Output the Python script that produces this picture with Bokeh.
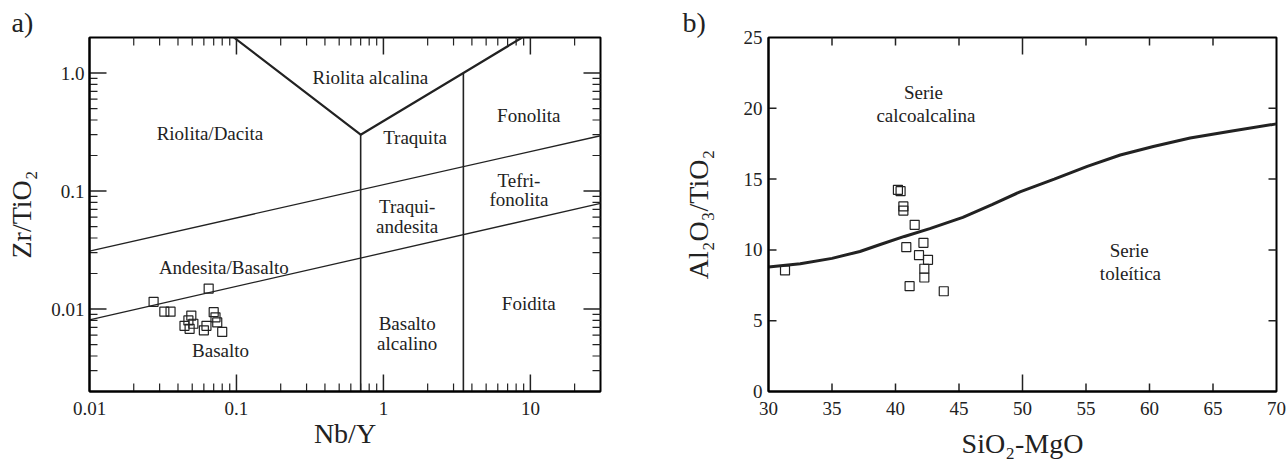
from bokeh.plotting import figure
from bokeh.models import FixedTicker, Range1d
from bokeh.layouts import row
from bokeh.core.properties import value
from bokeh.embed import file_html
from bokeh.resources import INLINE
import math

FONT = "Liberation Serif"
INK = "#222222"

# ---------------- panel a) data ----------------
a_nb_y = [0.0273, 0.0647, 0.0323, 0.0356, 0.0443, 0.0471, 0.0493, 0.0509, 0.0480,
          0.0625, 0.0600, 0.0700, 0.0720, 0.0740, 0.0800]
a_zr_ti = [0.0115, 0.0149, 0.0095, 0.0095, 0.0072, 0.0080, 0.0088, 0.0075, 0.0068,
           0.0072, 0.0066, 0.0094, 0.0085, 0.0077, 0.0064]

# field boundaries (Nb/Y, Zr/TiO2)
v_x = [0.096, 0.7, 3.5, 8.8]
v_y = [2.0, 0.3, 1.0, 2.0]
vert1_x = [0.7, 0.7]
vert1_y = [0.3, 0.002]
vert2_x = [3.5, 3.5]
vert2_y = [1.0, 0.002]
upper_x = [0.01, 30.0]
upper_y = [0.031, 0.294]
lower_x = [0.01, 30.0]
lower_y = [0.0081, 0.0785]

a_labels = ["Riolita alcalina", "Riolita/Dacita", "Traquita", "Fonolita", "Tefri-", "fonolita",
            "Traqui-", "andesita", "Andesita/Basalto", "Foidita", "Basalto", "alcalino", "Basalto"]
a_lab_x = [0.815, 0.066, 1.64, 9.75, 8.36, 8.36, 1.45, 1.45, 0.082, 9.75, 1.45, 1.45, 0.078]
a_lab_y = [0.925, 0.31, 0.285, 0.44, 0.123, 0.084, 0.0736, 0.050, 0.0223, 0.0112, 0.0076, 0.0051, 0.00447]

a_xmin, a_xmax = 0.01, 30.0
a_ymin, a_ymax = 0.002, 2.0
a_major_x = [0.01, 0.1, 1.0, 10.0]
a_major_y = [0.01, 0.1, 1.0]
a_minor_x = [m * d for d in [0.01, 0.1, 1.0, 10.0] for m in range(2, 10) if m * d < a_xmax]
a_minor_y = [m * d for d in [0.001, 0.01, 0.1, 1.0] for m in range(2, 10) if a_ymin < m * d < a_ymax]
a_xlabels = {0.01: "0.01", 0.1: "0.1", 1.0: "1", 10.0: "10"}
a_ylabels = {0.01: "0.01", 0.1: "0.1", 1.0: "1.0"}

# ---------------- panel b) data ----------------
b_sio2_mgo = [31.3, 40.19, 40.40, 40.62, 40.62, 41.51, 42.20, 40.85, 41.85, 42.56,
              42.27, 42.27, 41.11, 43.80]
b_al_ti = [8.55, 14.24, 14.15, 13.07, 12.78, 11.77, 10.50, 10.19, 9.63, 9.30,
           8.67, 8.05, 7.44, 7.08]

curve_x = [30, 32.5, 35, 37.2, 38.8, 40.7, 42.7, 45.3, 47.6, 49.8, 52.5, 55.1, 57.7,
           60.3, 63.2, 66.5, 70]
curve_y = [8.8, 9.02, 9.4, 9.89, 10.38, 10.95, 11.5, 12.3, 13.2, 14.1, 15.0, 15.9, 16.7,
           17.3, 17.9, 18.4, 18.9]

b_labels = ["Serie", "calcoalcalina", "Serie", "toleítica"]
b_lab_x = [42.2, 42.4, 58.4, 58.5]
b_lab_y = [21.14, 19.49, 9.96, 8.31]

b_xmin, b_xmax = 30, 70
b_ymin, b_ymax = 0, 25
b_xticks = [30, 35, 40, 45, 50, 55, 60, 65, 70]
b_yticks = [0, 5, 10, 15, 20, 25]
b_xticks_short = [35, 40, 45, 55, 60, 65]
b_xticks_long = [50]
b_yticks_inner = [5, 10, 15, 20]


def style_axis(ax):
    ax.axis_line_width = 2
    ax.axis_line_color = "black"
    ax.major_tick_in = 0
    ax.major_tick_out = 0
    ax.minor_tick_in = 0
    ax.minor_tick_out = 0
    ax.major_label_text_font = FONT
    ax.major_label_text_font_size = "19px"
    ax.major_label_text_color = INK
    ax.axis_label_text_font = FONT
    ax.axis_label_text_font_size = "28px"
    ax.axis_label_text_font_style = "normal"
    ax.axis_label_text_color = INK


def edge_ticks(p, xs, ys, x_lo, x_hi, y_lo, y_hi, length, width):
    """Inward frame ticks: a dash marker of twice the tick length centred on the
    frame edge; the outer half is clipped away by the frame."""
    if xs:
        n = len(xs)
        p.scatter(xs + xs, [y_lo] * n + [y_hi] * n, marker="dash", size=2 * length,
                  angle=math.pi / 2, line_color=INK, line_width=width)
    if ys:
        n = len(ys)
        p.scatter([x_lo] * n + [x_hi] * n, ys + ys, marker="dash", size=2 * length,
                  angle=0, line_color=INK, line_width=width)


def setup_title(p, text, offset):
    p.title.text = text
    p.title.align = "left"
    p.title.offset = offset
    p.title.standoff = 0
    p.title.text_font = FONT
    p.title.text_font_size = "28px"
    p.title.text_font_style = "normal"
    p.title.text_color = INK


# ---------------- figure a ----------------
p1 = figure(width=660, height=462, x_axis_type="log", y_axis_type="log",
            x_range=Range1d(a_xmin, a_xmax), y_range=Range1d(a_ymin, a_ymax),
            output_backend="svg", toolbar_location=None,
            min_border_left=89, min_border_right=60, min_border_top=34, min_border_bottom=71,
            x_axis_label="Nb/Y", y_axis_label="Zr/TiO₂")
p1.grid.visible = False
p1.outline_line_color = "black"
p1.outline_line_width = 2
setup_title(p1, "a)", -78)

p1.xaxis.ticker = FixedTicker(ticks=a_major_x, minor_ticks=[])
p1.yaxis.ticker = FixedTicker(ticks=a_major_y, minor_ticks=[])
p1.xaxis.major_label_overrides = a_xlabels
p1.yaxis.major_label_overrides = a_ylabels
style_axis(p1.xaxis[0])
style_axis(p1.yaxis[0])
p1.xaxis.major_label_standoff = 10
p1.xaxis.axis_label_standoff = 0
p1.yaxis.major_label_standoff = 5
p1.yaxis.axis_label_standoff = 11

p1.line(v_x, v_y, line_color=INK, line_width=2.2)
p1.line(vert1_x, vert1_y, line_color=INK, line_width=1.6)
p1.line(vert2_x, vert2_y, line_color=INK, line_width=1.6)
p1.line(upper_x, upper_y, line_color=INK, line_width=1.3)
p1.line(lower_x, lower_y, line_color=INK, line_width=1.3)

p1.scatter(a_nb_y, a_zr_ti, marker="square", size=9, fill_color=None,
           line_color=INK, line_width=1.2)

p1.text(a_lab_x, a_lab_y, text=a_labels, text_font=value(FONT), text_font_size="19px",
        text_align="center", text_baseline="middle", text_color=INK)

edge_ticks(p1, a_major_x[1:], a_major_y, a_xmin, a_xmax, a_ymin, a_ymax, 17, 1.5)
edge_ticks(p1, a_minor_x, a_minor_y, a_xmin, a_xmax, a_ymin, a_ymax, 8, 1.2)

# ---------------- figure b ----------------
p2 = figure(width=628, height=462, x_range=Range1d(b_xmin, b_xmax), y_range=Range1d(b_ymin, b_ymax),
            output_backend="svg", toolbar_location=None,
            min_border_left=108, min_border_right=12, min_border_top=37, min_border_bottom=71,
            x_axis_label="SiO₂-MgO", y_axis_label="Al₂O₃/TiO₂")
p2.grid.visible = False
p2.outline_line_color = "black"
p2.outline_line_width = 2
setup_title(p2, "b)", -86)
p2.xaxis.ticker = FixedTicker(ticks=b_xticks)
p2.yaxis.ticker = FixedTicker(ticks=b_yticks)
style_axis(p2.xaxis[0])
style_axis(p2.yaxis[0])
p2.xaxis.major_label_standoff = 10
p2.xaxis.axis_label_standoff = 10
p2.yaxis.major_label_standoff = 6
p2.yaxis.axis_label_standoff = 27

p2.line(curve_x, curve_y, line_color=INK, line_width=3)
p2.scatter(b_sio2_mgo, b_al_ti, marker="square", size=9, fill_color=None,
           line_color=INK, line_width=1.2)
p2.text(b_lab_x, b_lab_y, text=b_labels, text_font=value(FONT), text_font_size="19px",
        text_align="center", text_baseline="middle", text_color=INK)

edge_ticks(p2, b_xticks_short, b_yticks_inner, b_xmin, b_xmax, b_ymin, b_ymax, 8, 1.5)
edge_ticks(p2, b_xticks_long, [], b_xmin, b_xmax, b_ymin, b_ymax, 17, 1.5)

layout = row(p1, p2)
open("out.html", "w").write(file_html(layout, INLINE))
